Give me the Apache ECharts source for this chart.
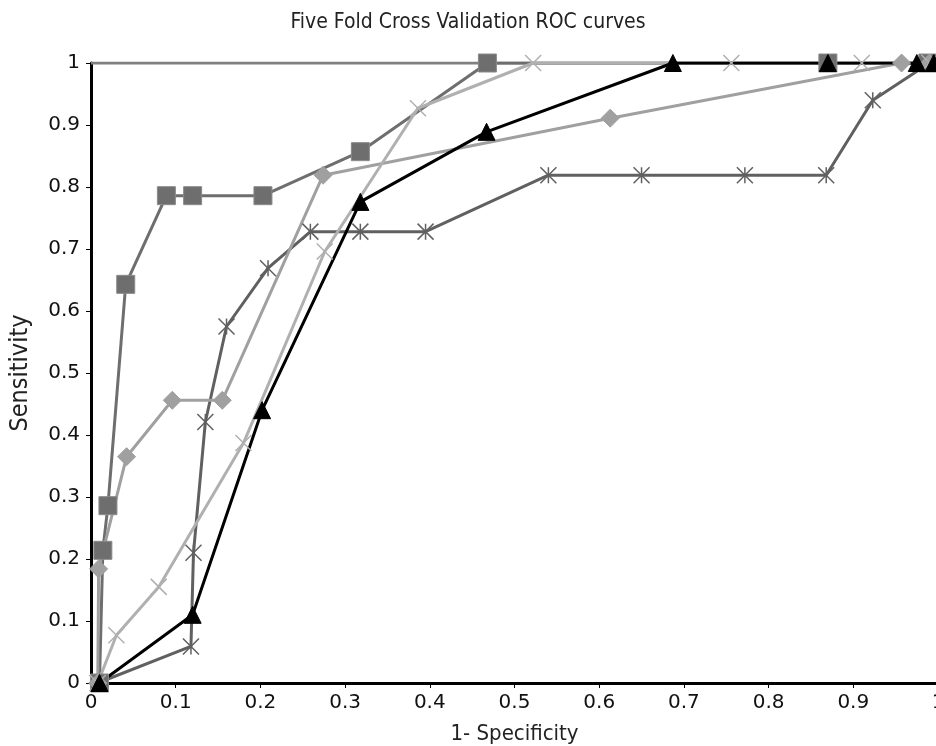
<!DOCTYPE html>
<html>
<head>
<meta charset="utf-8">
<script src="https://cdn.jsdelivr.net/npm/echarts@6/dist/echarts.min.js"></script>
<style>html,body{margin:0;padding:0;background:#fff}#c{width:936px;height:746px}</style>
</head>
<body>
<div id="c"></div>
<script>
// ---- data (x = 1-Specificity, y = Sensitivity) ----
const squareX   = [0.01, 0.014, 0.02, 0.041, 0.089, 0.12, 0.203, 0.318, 0.468, 0.87, 0.988];
const squareY   = [0,    0.214, 0.286, 0.643, 0.786, 0.786, 0.786, 0.857, 1,   1,    1];
const diamondX  = [0.008, 0.009, 0.042, 0.096, 0.155, 0.274, 0.613, 0.957, 0.99];
const diamondY  = [0,     0.184, 0.365, 0.456, 0.456, 0.819, 0.911, 1,     1];
const crossX    = [0.008, 0.03, 0.08, 0.18, 0.276, 0.386, 0.522, 0.756, 0.91, 0.99];
const crossY    = [0,     0.077, 0.155, 0.387, 0.696, 0.927, 1,   1,     1,    1];
const triangleX = [0.01, 0.12, 0.202, 0.318, 0.467, 0.687, 0.87, 0.975, 0.995];
const triangleY = [0,    0.11, 0.44,  0.776, 0.889, 1,     1,    1,     1];
const starX     = [0.008, 0.118, 0.121, 0.135, 0.16, 0.209, 0.259, 0.318, 0.395, 0.54, 0.65, 0.772, 0.868, 0.923, 0.99];
const starY     = [0,     0.059, 0.21,  0.421, 0.575, 0.669, 0.728, 0.728, 0.728, 0.819, 0.819, 0.819, 0.819, 0.94, 1];
const refX      = [0, 1];
const refY      = [1, 1];

const zip = (xs, ys) => xs.map((x, i) => [x, ys[i]]);
const crossPath = 'path://M0,0L10,10M10,0L0,10';
const starPath = 'path://M0,0L10,10M10,0L0,10M5,0L5,10';
const titleFont = '"DejaVu Sans Condensed", "DejaVu Sans", sans-serif';
const tickFont = '"DejaVu Sans", Verdana, sans-serif';

function lineSeries(name, xs, ys, color, symbol, size, extra) {
  return Object.assign({
    name, type: 'line', data: zip(xs, ys), symbol, symbolSize: size,
    lineStyle: { color, width: 3 },
    itemStyle: { color, borderColor: color, borderWidth: 1 },
    animation: false
  }, extra || {});
}

const chart = echarts.init(document.getElementById('c'), null, { renderer: 'canvas' });
chart.setOption({
  backgroundColor: '#fff',
  title: {
    text: 'Five Fold Cross Validation ROC curves', left: 'center', top: 7,
    textStyle: { fontFamily: titleFont, fontWeight: 'normal', fontSize: 21, color: '#222' }
  },
  grid: { left: 91, right: -2, top: 63, bottom: 63, outerBoundsMode: 'none', containLabel: false },
  xAxis: {
    type: 'value', min: 0, max: 1, interval: 0.1,
    name: '1- Specificity', nameLocation: 'middle', nameGap: 40,
    nameTextStyle: { fontFamily: titleFont, fontSize: 22, color: '#222' },
    axisLine: { show: true, lineStyle: { color: '#000', width: 3 } },
    axisTick: { show: true, length: 5, lineStyle: { color: '#000', width: 1 } },
    axisLabel: { fontFamily: tickFont, fontSize: 20, color: '#111', margin: 10 },
    splitLine: { show: false }
  },
  yAxis: {
    type: 'value', min: 0, max: 1, interval: 0.1,
    name: 'Sensitivity', nameLocation: 'middle', nameGap: 58, nameRotate: 90,
    nameTextStyle: { fontFamily: titleFont, fontSize: 25, color: '#222' },
    axisLine: { show: true, lineStyle: { color: '#000', width: 3 } },
    axisTick: { show: true, length: 5, lineStyle: { color: '#000', width: 1 } },
    axisLabel: { fontFamily: tickFont, fontSize: 20, color: '#111', margin: 11 },
    splitLine: { show: false }
  },
  series: [
    lineSeries('ref', refX, refY, '#808080', 'none', 0),
    lineSeries('star', starX, starY, '#606060', starPath, 16, { itemStyle: { color: '#606060', borderColor: '#606060', borderWidth: 1.5 } }),
    lineSeries('square', squareX, squareY, '#6e6e6e', 'rect', 18, { itemStyle: { color: '#6e6e6e', borderColor: '#8a8a8a', borderWidth: 1 } }),
    lineSeries('diamond', diamondX, diamondY, '#a0a0a0', 'diamond', 18),
    lineSeries('cross', crossX, crossY, '#b0b0b0', crossPath, 16, { itemStyle: { color: '#b0b0b0', borderColor: '#b0b0b0', borderWidth: 1.5 } }),
    lineSeries('triangle', triangleX, triangleY, '#000000', 'triangle', 17)
  ]
});
</script>
</body>
</html>
